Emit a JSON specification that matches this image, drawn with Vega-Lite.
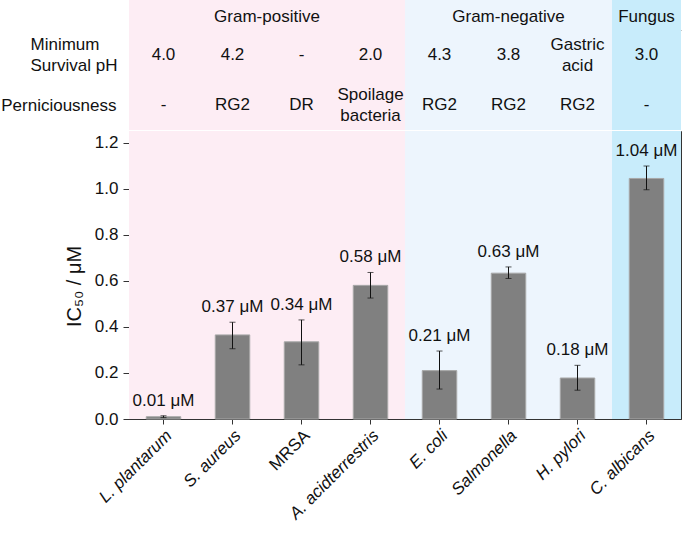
{
  "$schema": "https://vega.github.io/schema/vega-lite/v6.json",
  "padding": {"left": 0, "top": 0, "right": 2, "bottom": 0},
  "config": {
    "font": "Liberation Sans",
    "view": {"stroke": null},
    "concat": {"spacing": 0},
    "axis": {"labelFont": "Liberation Sans", "titleFont": "Liberation Sans", "labelColor": "#111", "titleColor": "#111", "domainColor": "#333", "tickColor": "#333", "grid": false},
    "text": {"font": "Liberation Sans", "fontSize": 17, "color": "#111"}
  },
  "datasets": {
    "microbes": [
      {"species": "L. plantarum", "group": "Gram-positive", "ph": "4.0", "pern": "-", "ic50": 0.01, "lo": 0.006, "hi": 0.014, "label": "0.01 μM"},
      {"species": "S. aureus", "group": "Gram-positive", "ph": "4.2", "pern": "RG2", "ic50": 0.365, "lo": 0.305, "hi": 0.42, "label": "0.37 μM"},
      {"species": "MRSA", "group": "Gram-positive", "ph": "-", "pern": "DR", "ic50": 0.335, "lo": 0.235, "hi": 0.43, "label": "0.34 μM"},
      {"species": "A. acidterrestris", "group": "Gram-positive", "ph": "2.0", "pern": "Spoilage\nbacteria", "ic50": 0.58, "lo": 0.525, "hi": 0.636, "label": "0.58 μM"},
      {"species": "E. coli", "group": "Gram-negative", "ph": "4.3", "pern": "RG2", "ic50": 0.21, "lo": 0.13, "hi": 0.295, "label": "0.21 μM"},
      {"species": "Salmonella", "group": "Gram-negative", "ph": "3.8", "pern": "RG2", "ic50": 0.633, "lo": 0.61, "hi": 0.66, "label": "0.63 μM"},
      {"species": "H. pylori", "group": "Gram-negative", "ph": "Gastric\nacid", "pern": "RG2", "ic50": 0.178, "lo": 0.125, "hi": 0.233, "label": "0.18 μM"},
      {"species": "C. albicans", "group": "Fungus", "ph": "3.0", "pern": "-", "ic50": 1.044, "lo": 0.995, "hi": 1.098, "label": "1.04 μM"}
    ],
    "groups": [
      {"group": "Gram-positive", "anchor": "S. aureus"},
      {"group": "Gram-negative", "anchor": "Salmonella"},
      {"group": "Fungus", "anchor": "C. albicans"}
    ]
  },
  "vconcat": [
    {
      "width": 552,
      "height": 30,
      "layer": [
        {
          "data": {"name": "microbes"},
          "mark": {"type": "bar", "width": {"band": 2}},
          "encoding": {
            "x": {"field": "species", "type": "nominal", "scale": {"domain": ["L. plantarum", "S. aureus", "MRSA", "A. acidterrestris", "E. coli", "Salmonella", "H. pylori", "C. albicans"], "paddingInner": 0.5, "paddingOuter": 0.25},
              "axis": {"orient": "bottom", "labels": false, "ticks": false, "domain": true, "domainColor": "#8a8a8a", "title": null}},
            "y": {"value": 0},
            "y2": {"value": "height"},
            "color": {"field": "group", "type": "nominal", "scale": {"domain": ["Gram-positive", "Gram-negative", "Fungus"], "range": ["#fdedf4", "#edf5fd", "#c8ecfb"]}, "legend": null}
          }
        },
        {
          "data": {"name": "groups"},
          "transform": [{"filter": "datum.group == 'Gram-positive'"}],
          "mark": {"type": "text", "dx": 34.5, "baseline": "middle", "dy": 2},
          "encoding": {
            "x": {"field": "anchor", "type": "nominal"},
            "text": {"field": "group"}
          }
        },
        {
          "data": {"name": "groups"},
          "transform": [{"filter": "datum.group != 'Gram-positive'"}],
          "mark": {"type": "text", "baseline": "middle", "dy": 2},
          "encoding": {
            "x": {"field": "anchor", "type": "nominal"},
            "text": {"field": "group"}
          }
        }
      ]
    },
    {
      "width": 552,
      "height": 100,
      "data": {"name": "microbes"},
      "layer": [
        {
          "mark": {"type": "bar", "width": {"band": 2}},
          "encoding": {
            "x": {"field": "species", "type": "nominal", "scale": {"domain": ["L. plantarum", "S. aureus", "MRSA", "A. acidterrestris", "E. coli", "Salmonella", "H. pylori", "C. albicans"], "paddingInner": 0.5, "paddingOuter": 0.25}, "axis": null},
            "y": {"value": 0},
            "y2": {"value": "height"},
            "color": {"field": "group", "type": "nominal", "scale": {"domain": ["Gram-positive", "Gram-negative", "Fungus"], "range": ["#fdedf4", "#edf5fd", "#c8ecfb"]}, "legend": null}
          }
        },
        {
          "transform": [{"fold": ["ph", "pern"], "as": ["row", "value"]}, {"filter": "indexof(datum.value, '\\n') < 0"}],
          "mark": {"type": "text", "baseline": "middle"},
          "encoding": {
            "x": {"field": "species", "type": "nominal"},
            "y": {"field": "row", "type": "nominal", "scale": {"type": "point", "domain": ["ph", "pern"], "padding": 0.5},
              "axis": {"title": null, "ticks": false, "domain": false, "labelFontSize": 17, "labelLineHeight": 21,
                "labelPadding": {"condition": {"test": "datum.value == 'ph'", "value": 99}, "value": 13},
                "labelAlign": {"condition": {"test": "datum.value == 'ph'", "value": "left"}, "value": "right"},
                "labelOffset": {"condition": {"test": "datum.value == 'ph'", "value": -11}, "value": 0},
                "labelExpr": "datum.value == 'ph' ? ['Minimum', 'Survival pH'] : 'Perniciousness'"}},
            "text": {"field": "value"}
          }
        },
        {
          "transform": [{"fold": ["ph", "pern"], "as": ["row", "value"]}, {"filter": "indexof(datum.value, '\\n') >= 0"}],
          "mark": {"type": "text", "baseline": "middle", "lineBreak": "\n", "lineHeight": 21, "dy": -10.5},
          "encoding": {
            "x": {"field": "species", "type": "nominal"},
            "y": {"field": "row", "type": "nominal"},
            "text": {"field": "value"}
          }
        }
      ]
    },
    {
      "width": 552,
      "height": 288,
      "view": {"stroke": "#333", "strokeWidth": 1},
      "data": {"name": "microbes"},
      "encoding": {
        "x": {"field": "species", "type": "nominal", "scale": {"domain": ["L. plantarum", "S. aureus", "MRSA", "A. acidterrestris", "E. coli", "Salmonella", "H. pylori", "C. albicans"], "paddingInner": 0.5, "paddingOuter": 0.25},
          "axis": {"title": null, "labelAngle": -45, "labelAlign": "right", "labelBaseline": "top", "labelFontSize": 17, "tickSize": 5, "labelPadding": 3,
            "labelFontStyle": {"condition": {"test": "datum.value == 'MRSA'", "value": "normal"}, "value": "italic"}}}
      },
      "layer": [
        {
          "mark": {"type": "bar", "width": {"band": 2}},
          "encoding": {
            "y": {"datum": 1.25, "type": "quantitative", "title": "IC₅₀ / μM", "scale": {"domain": [0, 1.25], "nice": false},
              "axis": {"values": [0, 0.1, 0.2, 0.3, 0.4, 0.5, 0.6, 0.7, 0.8, 0.9, 1.0, 1.1, 1.2], "labelExpr": "round(datum.value * 10) % 2 == 0 ? format(datum.value, '.1f') : ''",
                "tickSize": {"condition": {"test": "round(datum.value * 10) % 2 == 0", "value": 6}, "value": 3},
                "labelFontSize": 17, "labelPadding": 5, "title": "IC₅₀ / μM", "titleFontSize": 20, "titleFontWeight": "normal", "titlePadding": 10, "titleY": 155}},
            "y2": {"datum": 0},
            "color": {"field": "group", "type": "nominal", "scale": {"domain": ["Gram-positive", "Gram-negative", "Fungus"], "range": ["#fdedf4", "#edf5fd", "#c8ecfb"]}, "legend": null}
          }
        },
        {
          "mark": {"type": "bar", "color": "#808080", "stroke": "#a8a8a8", "strokeWidth": 1},
          "encoding": {
            "y": {"field": "ic50", "type": "quantitative", "title": "IC₅₀ / μM"}
          }
        },
        {
          "mark": {"type": "errorbar", "ticks": {"size": 6, "color": "#111"}, "rule": {"color": "#111"}, "thickness": 1},
          "encoding": {
            "y": {"field": "lo", "type": "quantitative", "title": "IC₅₀ / μM"},
            "y2": {"field": "hi"}
          }
        },
        {
          "mark": {"type": "text", "baseline": "middle", "dy": -15},
          "encoding": {
            "y": {"field": "hi", "type": "quantitative", "title": "IC₅₀ / μM"},
            "text": {"field": "label"}
          }
        }
      ]
    }
  ]
}
